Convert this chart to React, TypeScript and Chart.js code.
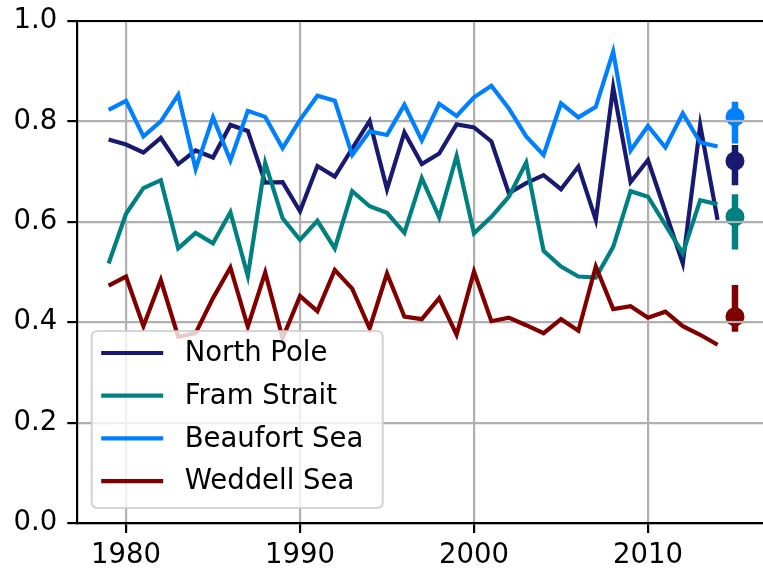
import React, { useEffect, useRef } from "react";
import { Chart, registerables } from "chart.js";

Chart.register(...registerables);

const years = [
  1979, 1980, 1981, 1982, 1983, 1984, 1985, 1986, 1987, 1988, 1989, 1990,
  1991, 1992, 1993, 1994, 1995, 1996, 1997, 1998, 1999, 2000, 2001, 2002,
  2003, 2004, 2005, 2006, 2007, 2008, 2009, 2010, 2011, 2012, 2013, 2014,
];

const northPole = [
  0.764, 0.754, 0.738, 0.767, 0.715, 0.742, 0.728, 0.793, 0.781, 0.678, 0.679, 0.621,
  0.711, 0.690, 0.746, 0.801, 0.665, 0.778, 0.715, 0.736, 0.794, 0.788, 0.760, 0.657,
  0.677, 0.693, 0.665, 0.710, 0.604, 0.868, 0.679, 0.723, 0.620, 0.517, 0.793, 0.604,
];
const framStrait = [
  0.517, 0.616, 0.667, 0.683, 0.547, 0.578, 0.557, 0.619, 0.492, 0.717, 0.607, 0.564,
  0.602, 0.547, 0.661, 0.631, 0.618, 0.578, 0.687, 0.609, 0.731, 0.577, 0.610, 0.650,
  0.718, 0.542, 0.511, 0.491, 0.489, 0.550, 0.661, 0.650, 0.594, 0.537, 0.643, 0.635,
];
const beaufortSea = [
  0.823, 0.841, 0.770, 0.800, 0.853, 0.705, 0.808, 0.722, 0.821, 0.809, 0.747, 0.803,
  0.851, 0.841, 0.733, 0.780, 0.773, 0.833, 0.762, 0.835, 0.811, 0.848, 0.871, 0.826,
  0.770, 0.733, 0.836, 0.808, 0.829, 0.939, 0.742, 0.791, 0.748, 0.816, 0.758, 0.750,
];
const weddellSea = [
  0.473, 0.491, 0.392, 0.484, 0.371, 0.378, 0.448, 0.509, 0.391, 0.499, 0.368, 0.452,
  0.422, 0.504, 0.467, 0.388, 0.497, 0.411, 0.406, 0.448, 0.375, 0.501, 0.402, 0.409,
  0.394, 0.378, 0.406, 0.383, 0.511, 0.426, 0.432, 0.409, 0.421, 0.392, 0.375, 0.355,
];

const seriesNames = ["North Pole", "Fram Strait", "Beaufort Sea", "Weddell Sea"];
const seriesColors = ["#191970", "#008080", "#0080ff", "#800000"];
const seriesValues = [northPole, framStrait, beaufortSea, weddellSea];

// summary point (2015) with error bar per series
const errYear = 2015;
const errCenter = [0.721, 0.610, 0.809, 0.411];
const errLow = [0.673, 0.545, 0.756, 0.381];
const errHigh = [0.753, 0.655, 0.839, 0.474];

const xTicks = [1980, 1990, 2000, 2010];
const yTicks = [0.0, 0.2, 0.4, 0.6, 0.8, 1.0];
const xMin = 1977.2;
const xMax = 2016.8;

const FONT = "DejaVu Sans";
const FONT_SIZE = 27.5;

const topSpineAndLegend = {
  id: "topSpineAndLegend",
  afterDatasetsDraw(chart: any) {
    const { ctx, scales } = chart;
    const xs = scales.x;
    const ys = scales.y;
    // grid lines appear above the summary markers
    ctx.save();
    ctx.strokeStyle = "#b0b0b0";
    ctx.lineWidth = 2.2;
    yTicks.forEach((v) => {
      const hit = errLow.some((lo, i) => v >= lo - 0.03 && v <= errHigh[i] + 0.03);
      if (!hit) return;
      const py = Math.round(ys.getPixelForValue(v));
      ctx.beginPath();
      ctx.moveTo(xs.getPixelForValue(errYear - 0.7), py);
      ctx.lineTo(xs.getPixelForValue(errYear + 0.7), py);
      ctx.stroke();
    });
    ctx.restore();
  },
  afterDraw(chart: any) {
    const { ctx, chartArea } = chart;
    ctx.save();
    // top spine
    ctx.strokeStyle = "#000";
    ctx.lineWidth = 2.2;
    ctx.beginPath();
    ctx.moveTo(chartArea.left - 1.1, chartArea.top);
    ctx.lineTo(chartArea.right, chartArea.top);
    ctx.stroke();

    // legend
    const bw = 291;
    const bh = 177;
    const x0 = chartArea.left + 14.4;
    const y0 = chartArea.bottom - 15 - bh;
    const r = 6;
    ctx.beginPath();
    ctx.moveTo(x0 + r, y0);
    ctx.lineTo(x0 + bw - r, y0);
    ctx.quadraticCurveTo(x0 + bw, y0, x0 + bw, y0 + r);
    ctx.lineTo(x0 + bw, y0 + bh - r);
    ctx.quadraticCurveTo(x0 + bw, y0 + bh, x0 + bw - r, y0 + bh);
    ctx.lineTo(x0 + r, y0 + bh);
    ctx.quadraticCurveTo(x0, y0 + bh, x0, y0 + bh - r);
    ctx.lineTo(x0, y0 + r);
    ctx.quadraticCurveTo(x0, y0, x0 + r, y0);
    ctx.closePath();
    ctx.fillStyle = "rgba(255,255,255,0.8)";
    ctx.fill();
    ctx.strokeStyle = "rgba(204,204,204,0.8)";
    ctx.lineWidth = 2.2;
    ctx.stroke();

    ctx.font = `${FONT_SIZE}px "${FONT}"`;
    ctx.textBaseline = "middle";
    ctx.textAlign = "left";
    seriesNames.forEach((name, i) => {
      const cy = y0 + 22 + i * 42.7;
      ctx.strokeStyle = seriesColors[i];
      ctx.lineWidth = 4.2;
      ctx.beginPath();
      ctx.moveTo(x0 + 9.5, cy);
      ctx.lineTo(x0 + 71.5, cy);
      ctx.stroke();
      ctx.fillStyle = "#000";
      ctx.fillText(name, x0 + 93, cy + 1);
    });
    ctx.restore();
  },
};

export default function App() {
  const ref = useRef<HTMLCanvasElement | null>(null);

  useEffect(() => {
    document.body.style.margin = "0";
    document.body.style.overflow = "hidden";
    document.documentElement.style.overflow = "hidden";
    const canvas = ref.current;
    if (!canvas) return;

    const lineSets = seriesNames.map((name, i) => ({
      type: "line" as const,
      label: name,
      data: years.map((y, j) => ({ x: y, y: seriesValues[i][j] })),
      borderColor: seriesColors[i],
      backgroundColor: seriesColors[i],
      borderWidth: 4.2,
      pointRadius: 0,
      tension: 0,
      fill: false,
      order: 10 - i,
    }));
    const barSets = seriesNames.map((name, i) => ({
      type: "line" as const,
      label: name + " range",
      data: [
        { x: errYear, y: errLow[i] },
        { x: errYear, y: errHigh[i] },
      ],
      borderColor: seriesColors[i],
      borderWidth: 6.5,
      borderCapStyle: "butt" as const,
      pointRadius: 0,
      fill: false,
      order: 5 - i,
    }));
    const markSets = seriesNames.map((name, i) => ({
      type: "scatter" as const,
      label: name + " mean",
      data: [{ x: errYear, y: errCenter[i] }],
      backgroundColor: seriesColors[i],
      borderColor: seriesColors[i],
      borderWidth: 0,
      pointRadius: 9.5,
      order: 5 - i,
    }));

    const chart = new Chart(canvas, {
      type: "line",
      data: { datasets: [...lineSets, ...barSets, ...markSets] as any },
      options: {
        animation: false,
        responsive: false,
        devicePixelRatio: 1,
        layout: { autoPadding: false, padding: { top: 21, left: 0, right: 0.7, bottom: 0 } },
        plugins: {
          legend: { display: false },
          tooltip: { enabled: false },
        },
        scales: {
          x: {
            type: "linear",
            min: xMin,
            max: xMax,
            afterBuildTicks: (axis: any) => {
              axis.ticks = xTicks.map((v) => ({ value: v }));
            },
            afterFit: (axis: any) => {
              axis.height = 45;
              axis.paddingLeft = 0;
              axis.paddingRight = 0;
              axis.paddingTop = 0;
              axis.paddingBottom = 0;
            },
            ticks: {
              color: "#000",
              font: { family: FONT, size: FONT_SIZE },
              padding: 6,
              maxRotation: 0,
              autoSkip: false,
              callback: (v: any) => String(v),
            },
            grid: {
              color: "#b0b0b0",
              lineWidth: 2.2,
              tickColor: "#000",
              tickWidth: 2.2,
              tickLength: 10,
            },
            border: { color: "#000", width: 2.2 },
          },
          y: {
            type: "linear",
            min: 0,
            max: 1,
            afterBuildTicks: (axis: any) => {
              axis.ticks = yTicks.map((v) => ({ value: v }));
            },
            afterFit: (axis: any) => {
              axis.width = 77.3;
              axis.paddingLeft = 0;
              axis.paddingRight = 0;
              axis.paddingTop = 0;
              axis.paddingBottom = 0;
            },
            ticks: {
              color: "#000",
              font: { family: FONT, size: FONT_SIZE },
              padding: 10,
              autoSkip: false,
              callback: (v: any) => Number(v).toFixed(1),
            },
            grid: {
              color: "#b0b0b0",
              lineWidth: 2.2,
              tickColor: "#000",
              tickWidth: 2.2,
              tickLength: 10,
            },
            border: { color: "#000", width: 2.2 },
          },
        },
      },
      plugins: [topSpineAndLegend],
    });

    return () => chart.destroy();
  }, []);

  return (
    <div style={{ position: "fixed", left: 0, top: 0, width: 767, height: 568 }}>
      <canvas ref={ref} width={767} height={568} style={{ display: "block" }} />
    </div>
  );
}
